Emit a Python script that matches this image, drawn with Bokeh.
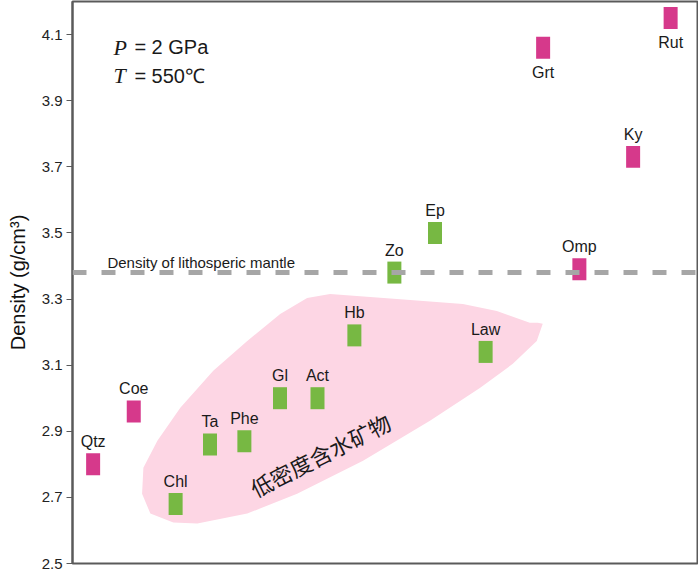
from bokeh.plotting import figure
from bokeh.models import Range1d, Label, Span, ColumnDataSource, FixedTicker
from bokeh.core.properties import value
from bokeh.embed import file_html
from bokeh.resources import INLINE

# ---- data ----
minerals = ["Qtz", "Coe", "Chl", "Ta", "Phe", "Gl", "Act", "Hb", "Zo", "Ep",
            "Law", "Grt", "Omp", "Ky", "Rut"]
x_pos = [0.33, 0.98, 1.65, 2.20, 2.75, 3.32, 3.92, 4.51, 5.15, 5.80,
         6.61, 7.53, 8.11, 8.97, 9.57]
density = [2.80, 2.96, 2.68, 2.86, 2.87, 3.00, 3.00, 3.19, 3.38, 3.50,
           3.14, 4.06, 3.39, 3.73, 4.15]
hydrous = [False, False, True, True, True, True, True, True, True, True,
           True, False, False, False, False]
label_below = ["Grt", "Rut"]
mantle_density = 3.38
y_ticks = [2.5, 2.7, 2.9, 3.1, 3.3, 3.5, 3.7, 3.9, 4.1]

# outline of the low-density hydrous minerals field
blob_x = [1.113, 1.246, 1.613, 1.997, 2.796, 3.594, 4.649, 5.719, 6.518, 7.045,
          7.428, 7.524, 7.444, 7.316, 6.789, 6.246, 5.192, 4.121, 3.754, 3.323,
          2.796, 2.252, 1.725, 1.358, 1.134, 1.118]
blob_y = [2.711, 2.651, 2.624, 2.621, 2.651, 2.711, 2.811, 2.932, 3.031, 3.104,
          3.173, 3.225, 3.228, 3.228, 3.264, 3.285, 3.300, 3.315, 3.303, 3.255,
          3.173, 3.083, 2.971, 2.871, 2.790, 2.729]

# ---- styles ----
MAGENTA = "#d6398b"
GREEN = "#77b843"
PINK = "#fdd6e4"
BAR_W = 0.224
BAR_H = 0.0665
FONT = "Liberation Sans"

p = figure(frame_width=625, frame_height=562, output_backend="svg",
           toolbar_location=None, x_range=Range1d(0, 10),
           y_range=Range1d(2.5, 4.2),
           min_border_left=72, min_border_right=1, min_border_top=1,
           min_border_bottom=9)
p.background_fill_color = "white"
p.border_fill_color = "white"
p.grid.visible = False
p.xaxis.visible = False
p.outline_line_color = "#5a5a5a"
p.outline_line_width = 2

ya = p.yaxis[0]
ya.ticker = FixedTicker(ticks=y_ticks)
ya.minor_tick_line_color = None
ya.major_tick_out = 6
ya.major_tick_in = 0
ya.major_tick_line_color = "#5a5a5a"
ya.major_tick_line_width = 1
ya.axis_line_color = "#5a5a5a"
ya.axis_line_width = 2
ya.major_label_standoff = 4
ya.major_label_text_font = FONT
ya.major_label_text_font_size = "15px"
ya.major_label_text_color = "#222222"
ya.axis_label = "Density (g/cm³)"
ya.axis_label_text_font = FONT
ya.axis_label_text_font_style = "normal"
ya.axis_label_text_font_size = "20px"
ya.axis_label_text_color = "#111111"
ya.axis_label_standoff = 10

# pink field
p.patch(blob_x, blob_y, fill_color=PINK, line_color=None)

# bars
colors = [GREEN if h else MAGENTA for h in hydrous]
src = ColumnDataSource(dict(x=x_pos, y=density, c=colors, name=minerals))
p.rect(x="x", y="y", width=BAR_W, height=BAR_H, fill_color="c",
       line_color=None, source=src)

# mantle line
p.add_layout(Span(location=mantle_density, dimension="width",
                  line_color="#a6a6a6", line_width=5, line_dash="14 15"))

# mineral labels
above = [i for i, n in enumerate(minerals) if n not in label_below]
below = [i for i, n in enumerate(minerals) if n in label_below]
src_a = ColumnDataSource(dict(x=[x_pos[i] for i in above],
                              y=[density[i] + BAR_H / 2 for i in above],
                              t=[minerals[i] for i in above]))
src_b = ColumnDataSource(dict(x=[x_pos[i] for i in below],
                              y=[density[i] - BAR_H / 2 for i in below],
                              t=[minerals[i] for i in below]))
p.text(x="x", y="y", text="t", source=src_a, text_align="center",
       text_baseline="bottom", y_offset=-3, text_font=value(FONT),
       text_font_size="16px", text_color="#1a1a1a")
p.text(x="x", y="y", text="t", source=src_b, text_align="center",
       text_baseline="top", y_offset=5, text_font=value(FONT),
       text_font_size="16px", text_color="#1a1a1a")

# annotations
p.add_layout(Label(x=0.559, y=3.410, text="Density of lithosperic mantle",
                   text_font=FONT, text_font_size="15px", text_color="#1a1a1a",
                   text_baseline="alphabetic"))
p.add_layout(Label(x=3.96, y=2.83, text="低密度含水矿物", angle=0.47,
                   text_align="center", text_baseline="middle",
                   text_font="Noto Sans CJK SC", text_font_size="22px",
                   text_color="#1a1a1a"))
for yy, sym, rest in [(4.061, "P", "= 2 GPa"), (3.976, "T", "= 550℃")]:
    p.add_layout(Label(x=0.655, y=yy, text=sym, text_font="Liberation Serif",
                       text_font_style="italic", text_font_size="22px",
                       text_color="#1a1a1a", text_baseline="alphabetic"))
    p.add_layout(Label(x=0.99, y=yy, text=rest, text_font=FONT,
                       text_font_size="20px", text_color="#1a1a1a",
                       text_baseline="alphabetic"))

open("out.html", "w").write(file_html(p, INLINE))
